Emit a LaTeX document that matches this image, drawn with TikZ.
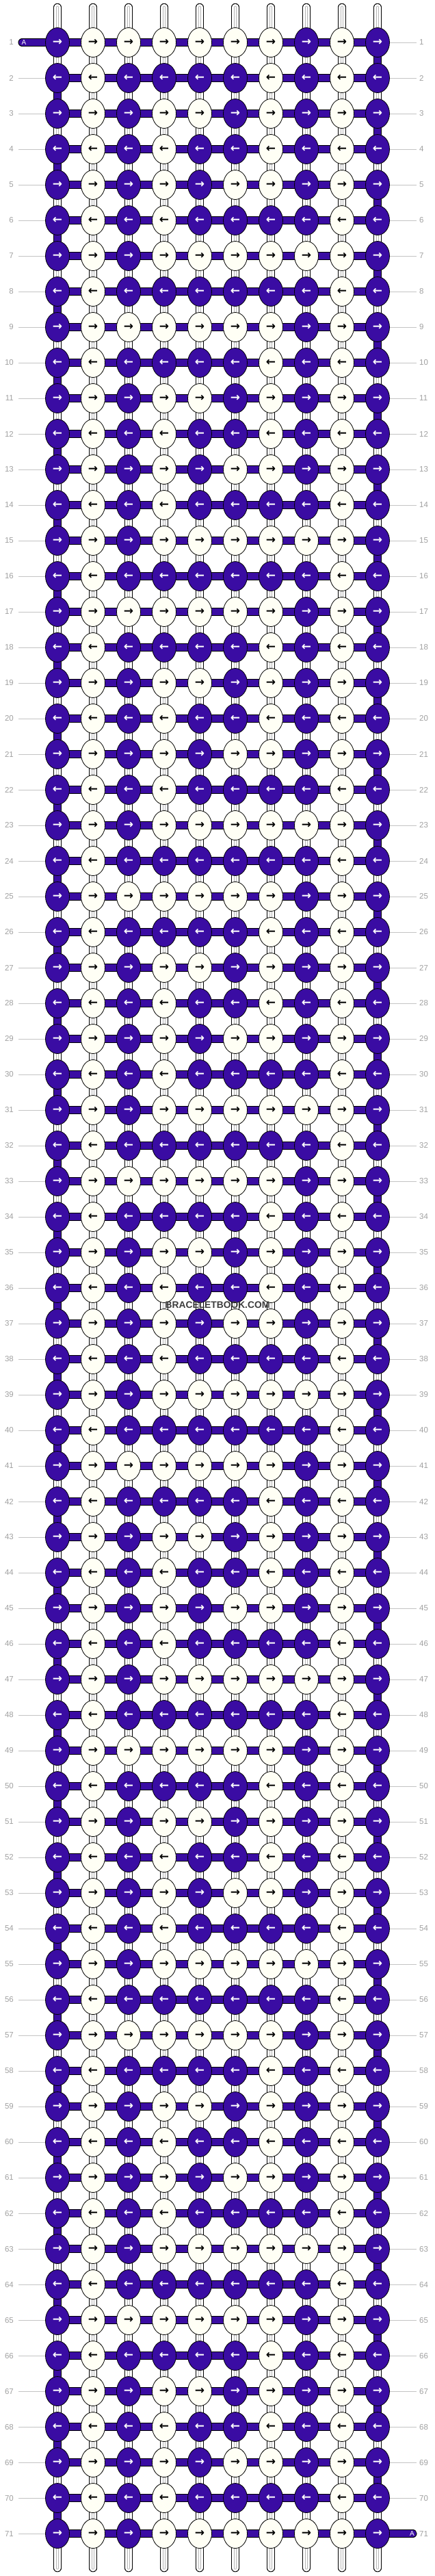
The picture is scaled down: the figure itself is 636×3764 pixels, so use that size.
\documentclass[tikz,border=0pt]{standalone}
\usepackage{fontspec}
\setmainfont{Liberation Sans}
\newfontfamily\arrowfont{DejaVu Sans}
\usepackage{xcolor}
\usepackage{tikz}
\usetikzlibrary{shapes.geometric, backgrounds, positioning}

\definecolor{weftpurple}{HTML}{3A0CA3}
\definecolor{knotwhite}{HTML}{FFFFF5}
\definecolor{warpgray}{HTML}{B4B4B4}
\definecolor{labelgray}{HTML}{A0A0A0}
\definecolor{linegray}{HTML}{C4C4C4}
\definecolor{brandgray}{HTML}{3C3C3C}

% one repeat of the pattern: 8 rows of 10 knots (1 = purple, 0 = white)
\def\knotmap{{1,0,0,0,0,0,0,1,0,1,
              1,0,1,1,1,1,0,1,0,1,
              1,0,1,0,0,1,0,1,0,1,
              1,0,1,0,1,1,0,1,0,1,
              1,0,1,0,1,0,0,1,0,1,
              1,0,1,0,1,1,1,1,0,1,
              1,0,1,0,0,0,0,0,0,1,
              1,0,1,1,1,1,1,1,0,1}}

\begin{document}
\begin{tikzpicture}[
                x = 1pt, y = -1pt,
                knot/.style={ellipse, draw=black, line width=0.8pt, minimum width=35pt, minimum height=43pt, inner sep=0pt, font=\arrowfont\bfseries\fontsize{17}{17}\selectfont},
                knot1/.style={knot, fill=weftpurple, text=white},
                knot0/.style={knot, fill=knotwhite, text=black},
                weft/.style={draw=black, line width=1pt, double=weftpurple, double distance=9.5pt},
                warp/.style={draw=black, line width=1pt, double=white, double distance=9.5pt, postaction={draw=warpgray, line width=0.7pt, double=white, double distance=2.6pt}},
                rowlabel/.style={text=labelgray, font=\fontsize{11.5}{11.5}\selectfont, inner ysep=0pt},
                rowline/.style={draw=linegray, line width=0.9pt},
                alabel/.style={text=white, font=\fontsize{10}{10}\selectfont, inner sep=0pt},
                brand/.style={text=brandgray, font=\bfseries\fontsize{13.8}{13.8}\selectfont, inner sep=0pt}
            ]
            \useasboundingbox (0,0) rectangle (636,3764);

            % knots
            \foreach \r in {1,...,71} {
                \ifodd\r\relax \def\arr{→}\else \def\arr{←}\fi
                \pgfmathtruncatemacro{\y}{62+52*(\r-1)}
                \foreach \c in {1,...,10} {
                    \pgfmathtruncatemacro{\v}{\knotmap[10*mod(\r-1,8)+\c-1]}
                    \pgfmathtruncatemacro{\x}{84+52*(\c-1)}
                    \node[knot\v] (k-\r-\c) at (\x,\y) {\arr};
                }
                \node[rowlabel, anchor=east, inner xsep=7pt] (l-\r) at (27,\y) {\r};
                \node[rowlabel, anchor=west, inner xsep=4pt] (r-\r) at (609,\y) {\r};
            }

            % loose ends of the strings
            \foreach \c in {1,...,10} {
                \pgfmathtruncatemacro{\x}{84+52*(\c-1)}
                \coordinate (top-\c) at (\x,10.5);
                \coordinate (bot-\c) at (\x,3752.5);
            }
            \coordinate (a-start) at (32.2,62);
            \coordinate (a-end) at (603.8,3702);

            \begin{pgfonlayer}{background}
                % vertical strands
                \foreach \c in {1,...,10} {
                    \draw[warp, line cap=round] (top-\c) -- (k-1-\c.center);
                    \draw[warp, line cap=round] (k-71-\c.center) -- (bot-\c);
                }
                \foreach \r in {1,...,70} {
                    \pgfmathtruncatemacro{\rn}{\r+1}
                    \foreach \c in {1,...,10} {
                        \pgfmathtruncatemacro{\turn}{or(and(\c==1,iseven(\r)),and(\c==10,isodd(\r)))}
                        \ifnum\turn=1
                            \draw[weft] (k-\r-\c.center) -- (k-\rn-\c.center);
                        \else
                            \draw[warp] (k-\r-\c.center) -- (k-\rn-\c.center);
                        \fi
                    }
                }
                % the working string A, row by row
                \foreach \r in {1,...,71} {
                    \foreach \c in {1,...,9} {
                        \pgfmathtruncatemacro{\cn}{\c+1}
                        \draw[weft] (k-\r-\c.center) -- (k-\r-\cn.center);
                    }
                }
                \draw[weft, line cap=round] (a-start) -- (k-1-1.center);
                \draw[weft, line cap=round] (k-71-10.center) -- (a-end);

                % row number leaders
                \foreach \r in {2,...,71} {
                    \draw[rowline] (l-\r) -- (k-\r-1);
                }
                \foreach \r in {1,...,70} {
                    \draw[rowline] (k-\r-10) -- (r-\r);
                }
            \end{pgfonlayer}

            \node[alabel, anchor=west] (a-in) at (31.5,62) {A};
            \node[alabel, anchor=east] (a-out) at (606,3702) {A};
            \node[brand] (brand) at (318,1907) {BRACELETBOOK.COM};
        \end{tikzpicture}
\end{document}
